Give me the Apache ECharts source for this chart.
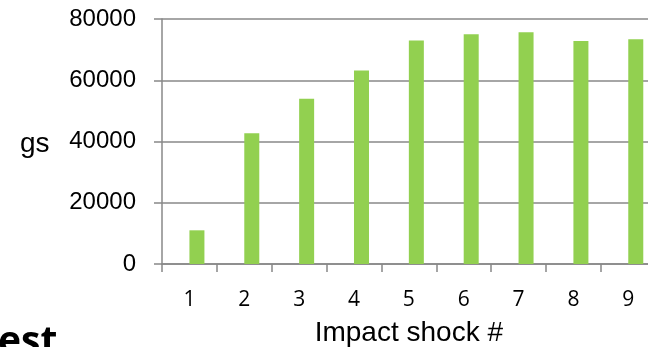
<!DOCTYPE html>
<html>
<head>
<meta charset="utf-8">
<script src="https://cdn.jsdelivr.net/npm/echarts@6/dist/echarts.min.js"></script>
<style>
html,body{margin:0;padding:0;background:#fff;}
#chart{width:648px;height:347px;}
</style>
</head>
<body>
<div id="chart"></div>
<script>
var categories = ['1','2','3','4','5','6','7','8','9'];
var gsValues = [11000, 42700, 54000, 63200, 73000, 75000, 75700, 72800, 73400];
var yTicks = [0, 20000, 40000, 60000, 80000];

var chart = echarts.init(document.getElementById('chart'));
chart.setOption({
  animation: false,
  backgroundColor: '#ffffff',
  grid: {left: 162, top: 19, bottom: 83, right: -7.7, containLabel: false, outerBoundsMode: 'none'},
  xAxis: {
    type: 'category',
    data: categories,
    boundaryGap: true,
    name: 'Impact shock #',
    nameLocation: 'middle',
    nameGap: 55,
    nameTextStyle: {fontFamily: 'Liberation Sans', fontSize: 28, color: '#000'},
    axisLine: {lineStyle: {color: '#888', width: 1.5}},
    axisTick: {show: true, length: 8, inside: false, lineStyle: {color: '#888', width: 1.5}},
    axisLabel: {fontFamily: 'Open Sans', fontSize: 21, color: '#000', margin: 26}
  },
  yAxis: {
    type: 'value',
    min: yTicks[0],
    max: yTicks[yTicks.length - 1],
    interval: yTicks[1] - yTicks[0],
    axisLine: {show: true, lineStyle: {color: '#888', width: 1.5}},
    axisTick: {show: true, length: 8, lineStyle: {color: '#888', width: 1.5}},
    splitLine: {show: true, lineStyle: {color: '#888', width: 1.5}},
    axisLabel: {fontFamily: 'Liberation Sans', fontSize: 24, color: '#000', margin: 26,
      formatter: function (v) { return String(v); }}
  },
  series: [
    {type: 'bar', name: 'blank', data: [], barWidth: 15, barGap: '0%'},
    {type: 'bar', name: 'gs', data: gsValues, barWidth: 15, barGap: '0%',
     itemStyle: {color: '#92D050'}}
  ],
  graphic: [
    {type: 'text', left: 20, top: 130, style: {text: 'gs', font: '28px "Liberation Sans"', fill: '#000'}},
    {type: 'text', left: -2, top: 323, style: {text: 'est', font: 'bold 39px "Open Sans"', fill: '#000'}}
  ]
});
</script>
</body>
</html>
